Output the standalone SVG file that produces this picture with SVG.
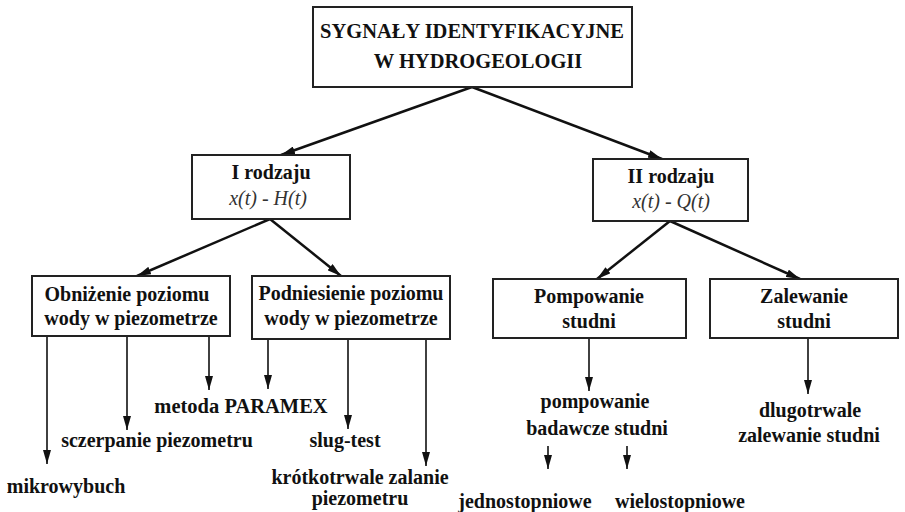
<svg xmlns="http://www.w3.org/2000/svg" width="905" height="512" viewBox="0 0 905 512">
<defs>
<marker id="av" viewBox="0 0 10 10" refX="10" refY="5" markerWidth="14" markerHeight="8" markerUnits="userSpaceOnUse" orient="auto" preserveAspectRatio="none">
<path d="M0,0 L10,5 L0,10 Z" fill="#111"/>
</marker>
<style>
rect.n{fill:#fff;stroke:#222;stroke-width:2}
.c line{stroke:#111;stroke-width:2.5;marker-end:url(#av)}
.c line.v{stroke-width:1.6}
</style>
</defs>
<rect x="0" y="0" width="905" height="512" fill="#fff"/>
<g class="c" id="connectors">
<line x1="472" y1="87" x2="281" y2="155"/>
<line x1="472" y1="87" x2="662" y2="159"/>
<line x1="270" y1="219" x2="137" y2="276"/>
<line x1="270" y1="219" x2="341" y2="276"/>
<line x1="670" y1="221" x2="597" y2="279"/>
<line x1="670" y1="221" x2="800" y2="279"/>
<line class="v" x1="47" y1="336" x2="47" y2="464"/>
<line class="v" x1="127" y1="336" x2="127" y2="430"/>
<line class="v" x1="209" y1="336" x2="209" y2="390"/>
<line class="v" x1="268" y1="339" x2="268" y2="389"/>
<line class="v" x1="348" y1="339" x2="348" y2="429"/>
<line class="v" x1="426" y1="339" x2="426" y2="466"/>
<line class="v" x1="589" y1="338" x2="589" y2="391"/>
<line class="v" x1="808" y1="338" x2="808" y2="394"/>
<line class="v" x1="548" y1="446" x2="548" y2="469"/>
<line class="v" x1="627" y1="446" x2="627" y2="469"/>
</g>
<g font-family="'Liberation Serif', 'Times New Roman', serif" font-weight="bold" fill="#111" text-anchor="middle" font-size="20">
<g id="root">
<rect class="n" x="313" y="7" width="319" height="80"/>
<text x="472" y="38" font-size="20.5">SYGNAŁY IDENTYFIKACYJNE</text>
<text x="478" y="68" font-size="20.5">W HYDROGEOLOGII</text>
</g>
<g id="rodzaj1">
<rect class="n" x="192" y="155" width="158" height="64"/>
<text x="271" y="179">I rodzaju</text>
<text x="268" y="205" font-style="italic" font-weight="normal" fill="#333">x(t) - H(t)</text>
</g>
<g id="rodzaj2">
<rect class="n" x="593" y="159" width="155" height="62"/>
<text x="671" y="183">II rodzaju</text>
<text x="671" y="208" font-style="italic" font-weight="normal" fill="#333">x(t) - Q(t)</text>
</g>
<g id="obnizenie">
<rect class="n" x="32" y="276" width="198" height="60"/>
<text x="127" y="301">Obniżenie poziomu</text>
<text x="131" y="325">wody w piezometrze</text>
</g>
<g id="podniesienie">
<rect class="n" x="252" y="276" width="198" height="63"/>
<text x="351" y="300">Podniesienie poziomu</text>
<text x="351" y="325">wody w piezometrze</text>
</g>
<g id="pompowanie">
<rect class="n" x="493" y="279" width="193" height="59"/>
<text x="589" y="303">Pompowanie</text>
<text x="589" y="328">studni</text>
</g>
<g id="zalewanie">
<rect class="n" x="710" y="279" width="188" height="59"/>
<text x="804" y="303">Zalewanie</text>
<text x="804" y="328">studni</text>
</g>
<g id="paramex"><text x="241" y="413" font-size="20.5">metoda PARAMEX</text></g>
<g id="sczerpanie"><text x="157" y="447">sczerpanie piezometru</text></g>
<g id="mikrowybuch"><text x="66" y="493">mikrowybuch</text></g>
<g id="slugtest"><text x="345" y="447">slug-test</text></g>
<g id="krotkotrwale"><text x="360" y="484">krótkotrwale zalanie</text><text x="360" y="505">piezometru</text></g>
<g id="pompowanie-badawcze"><text x="595" y="408">pompowanie</text><text x="597" y="435">badawcze studni</text></g>
<g id="jednostopniowe"><text x="525" y="508">jednostopniowe</text></g>
<g id="wielostopniowe"><text x="680" y="508">wielostopniowe</text></g>
<g id="dlugotrwale"><text x="810" y="417">dlugotrwale</text><text x="809" y="442">zalewanie studni</text></g>
</g>
</svg>
